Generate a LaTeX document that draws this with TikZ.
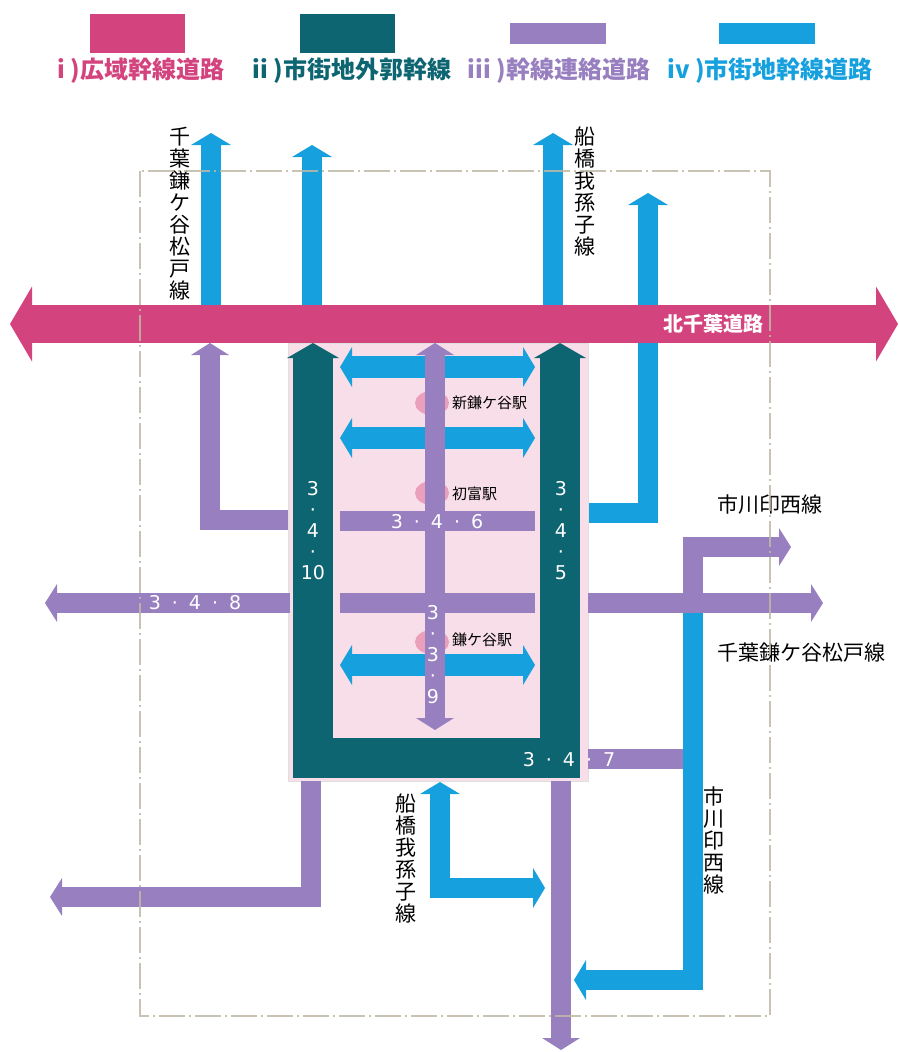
\documentclass[tikz,border=0pt]{standalone}
\usepackage{fontspec}
\usetikzlibrary{arrows.meta}
\newfontfamily\jp{Noto Sans CJK JP}
\newfontfamily\numfont{DejaVu Sans}
\definecolor{cM}{RGB}{211,68,126}
\definecolor{cT}{RGB}{14,101,114}
\definecolor{cP}{RGB}{152,128,192}
\definecolor{cB}{RGB}{23,160,222}
\definecolor{areaP}{RGB}{248,222,232}
\definecolor{stnP}{RGB}{234,160,186}
\definecolor{limitG}{RGB}{190,185,165}
\newcommand{\fsz}[2]{\fontsize{#1}{#2}\selectfont}
\newcommand{\numsep}{\hspace{11pt}·\hspace{11pt}}
\tikzset{
  tipW/.tip={Triangle[width=75pt,length=22pt,line width=0pt]},
  tipR/.tip={Triangle[width=52pt,length=15pt,line width=0pt]},
  tipL/.tip={Triangle[width=38pt,length=12pt,line width=0pt]},
  tipU/.tip={Triangle[width=40pt,length=12pt,line width=0pt]},
}

\begin{document}
\begin{tikzpicture}[x=1pt,y=-1pt,
    trunk/.style={draw=cM,line width=38pt},
    ring/.style={draw=cT,line width=40pt},
    link/.style={draw=cP,line width=20pt},
    urban/.style={draw=cB,line width=20pt},
    legend/.style={font=\jp\bfseries\fsz{24}{24},inner sep=0pt},
    lbl/.style={font=\jp\fsz{21}{22},inner sep=0pt,align=center},
    num/.style={font=\numfont\fsz{19}{21},text=white,inner sep=0pt,align=center},
    stn/.style={font=\jp\fsz{15}{15},anchor=west,inner sep=0pt}]
    \useasboundingbox (0,0) rectangle (898,1052);

    % legend
    \fill[cM] (90,14) rectangle (185,53);
    \fill[cT] (300,14) rectangle (395,53);
    \fill[cP] (510,23) rectangle (606,44);
    \fill[cB] (719,23) rectangle (815,44);
    \node[legend,text=cM] (lgI) at (141,71) {i )広域幹線道路};
    \node[legend,text=cT] (lgII) at (352,71) {ii )市街地外郭幹線};
    \node[legend,text=cP] (lgIII) at (559,71) {iii )幹線連絡道路};
    \node[legend,text=cB] (lgIV) at (770,71) {iv )市街地幹線道路};

    % north of the trunk road
    \draw[urban,-tipU] (211,324) -- (211,133);
    \draw[urban,-tipU] (312,324) -- (312,145);
    \draw[urban,-tipU] (553,324) -- (553,133);
    \draw[urban,-tipU] (588,513) -- (648,513) -- (648,193);
    \draw[trunk,tipW-tipW] (10,324) -- (898,324);
    \node[font=\jp\bfseries\fsz{20}{20},text=white,inner sep=0pt] (kita) at (713,324) {北千葉道路};

    \draw[link,-tipL] (288,520) -- (210,520) -- (210,343);

    % centre area
    \fill[areaP] (288,343) rectangle (588,781);
    \draw[gray!25,line width=0.8pt] (288,343) rectangle (588,781);
    \fill[stnP] (432,403) ellipse (17pt and 12pt);
    \fill[stnP] (432,493) ellipse (17pt and 12pt);
    \fill[stnP] (432,642) ellipse (17pt and 12pt);
    \draw[urban,line width=22pt,tipU-tipU] (340,367) -- (535,367);
    \draw[urban,line width=22pt,tipU-tipU] (340,438) -- (535,438);
    \draw[urban,line width=22pt,tipU-tipU] (340,665) -- (535,665);
    \draw[link] (340,521) -- (535,521);
    \draw[link] (340,603) -- (535,603);
    \draw[link,tipL-tipL] (435,343) -- (435,730);
    \draw[ring,tipR-tipR] (313,343) -- (313,758) -- (560,758) -- (560,343);

    % roads leaving the area
    \draw[link,-tipL] (290,603) -- (45,603);
    \draw[link] (588,759) -- (685,759);
    \draw[urban,-tipU] (693,603) -- (693,980) -- (574,980);
    \draw[link,-tipL] (588,603) -- (823,603);
    \draw[link,-tipL] (693,603) -- (693,547) -- (791,547);
    \draw[link,-tipL] (311,781) -- (311,897) -- (50,897);
    \draw[link,-tipL] (561,781) -- (561,1050);
    \draw[urban,tipU-tipU] (440,782) -- (440,888) -- (545,888);

    % road numbers
    \node[num] (r10) at (313,531) {3\\·\\4\\·\\10};
    \node[num] (r5) at (561,531) {3\\·\\4\\·\\5};
    \node[num] (l6) at (437,522) {3\numsep 4\numsep 6};
    \node[num] (l8) at (195,603) {3\numsep 4\numsep 8};
    \node[num] (l9) at (433,655) {3\\·\\3\\·\\9};
    \node[num] (l7) at (569,760) {3\numsep 4\numsep 7};

    % stations
    \node[stn] (sShin) at (452,403) {新鎌ケ谷駅};
    \node[stn] (sHatsu) at (452,494) {初富駅};
    \node[stn] (sKama) at (452,640) {鎌ケ谷駅};

    % route names
    \node[lbl] (nChibaV) at (180,214) {千\\葉\\鎌\\ケ\\谷\\松\\戸\\線};
    \node[lbl] (nFunaV) at (585,192) {船\\橋\\我\\孫\\子\\線};
    \node[lbl] (nIchiH) at (770,505) {市川印西線};
    \node[lbl] (nChibaH) at (801,653) {千葉鎌ケ谷松戸線};
    \node[lbl] (nIchiV) at (714,840) {市\\川\\印\\西\\線};
    \node[lbl] (nFunaL) at (406,858) {船\\橋\\我\\孫\\子\\線};

    % planning area
    \draw[limitG,line width=2.5pt,opacity=0.85,dash pattern=on 26pt off 4pt on 2pt off 4pt]
        (140,171) rectangle (770,1016);
\end{tikzpicture}
\end{document}
